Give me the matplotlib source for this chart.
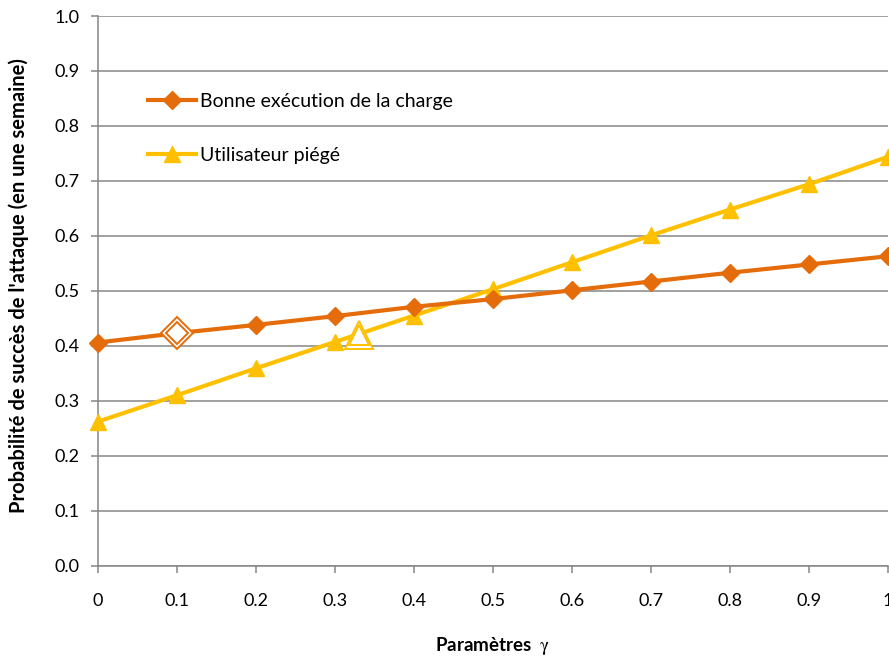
import matplotlib
matplotlib.use("Agg")
import matplotlib.pyplot as plt

gamma = [0, 0.1, 0.2, 0.3, 0.4, 0.5, 0.6, 0.7, 0.8, 0.9, 1.0]
bonne_execution = [0.406, 0.423, 0.438, 0.454, 0.471, 0.485, 0.501, 0.517, 0.533, 0.548, 0.563]
utilisateur_piege = [0.262, 0.310, 0.359, 0.407, 0.455, 0.503, 0.552, 0.601, 0.648, 0.694, 0.744]
highlight_bonne = (0.1, 0.423)
highlight_piege = (0.33, 0.419)

label_bonne = "Bonne exécution de la charge"
label_piege = "Utilisateur piégé"
xticks = [0, 0.1, 0.2, 0.3, 0.4, 0.5, 0.6, 0.7, 0.8, 0.9, 1]
xticklabels = ["0", "0.1", "0.2", "0.3", "0.4", "0.5", "0.6", "0.7", "0.8", "0.9", "1"]
yticks = [0.0, 0.1, 0.2, 0.3, 0.4, 0.5, 0.6, 0.7, 0.8, 0.9, 1.0]

ORANGE = "#E46C0A"
YELLOW = "#FFC000"
GRID = "#868686"

plt.rcParams["font.family"] = ["Lato", "DejaVu Sans"]
plt.rcParams["mathtext.fontset"] = "stix"

fig = plt.figure(figsize=(8.89, 6.62), dpi=100)
ax = fig.add_axes([0.110, 0.1455, 0.889, 0.8303])

ax.plot(gamma, bonne_execution, color=ORANGE, lw=3.0, marker="D", ms=9.5,
        markeredgecolor=ORANGE, label=label_bonne, zorder=4, clip_on=False)
ax.plot(gamma, utilisateur_piege, color=YELLOW, lw=3.0, marker="^", ms=12,
        markeredgecolor=YELLOW, label=label_piege, zorder=3, clip_on=False)

# highlighted hollow markers with double outline
hx, hy = highlight_bonne
ax.plot([hx], [hy], marker="D", ms=16, mfc="white", mec=ORANGE, mew=1.4, ls="none", zorder=6)
ax.plot([hx], [hy], marker="D", ms=11.5, mfc="white", mec=ORANGE, mew=1.4, ls="none", zorder=7)
hx, hy = highlight_piege
ax.plot([hx], [hy], marker="^", ms=20, mfc="white", mec=YELLOW, mew=1.4, ls="none", zorder=6)
ax.plot([hx], [hy], marker="^", ms=14.5, mfc="white", mec=YELLOW, mew=1.4, ls="none", zorder=7)

ax.set_xlim(0, 1)
ax.set_ylim(0, 1)
ax.set_xticks(xticks)
ax.set_xticklabels(xticklabels)
ax.set_yticks(yticks)
ax.set_yticklabels([f"{v:.1f}" for v in yticks])

ax.yaxis.grid(True, color=GRID, lw=1.1)
ax.set_axisbelow(True)
for s in ["top", "right"]:
    ax.spines[s].set_visible(False)
for s in ["left", "bottom"]:
    ax.spines[s].set_color(GRID)
    ax.spines[s].set_linewidth(1.1)
ax.tick_params(axis="both", colors=GRID, length=5, width=1.1, labelcolor="black", labelsize=13)
ax.tick_params(axis="x", pad=15)
ax.tick_params(axis="y", pad=8)

ax.set_ylabel("Probabilité de succès de l'attaque (en une semaine)", fontsize=14.5,
              fontweight="bold")
ax.yaxis.set_label_coords(-0.087, 0.51)
ax.set_xlabel("Paramètres  $\\mathrm{\\gamma}$", fontsize=13.5, fontweight="bold")
ax.xaxis.set_label_coords(0.50, -0.127)

leg = ax.legend(loc="upper left", bbox_to_anchor=(0.063, 0.86), frameon=False,
                fontsize=14, labelspacing=1.9, handlelength=2.5, handletextpad=0.2,
                borderpad=0, borderaxespad=0)

fig.savefig("out.png", dpi=100)
